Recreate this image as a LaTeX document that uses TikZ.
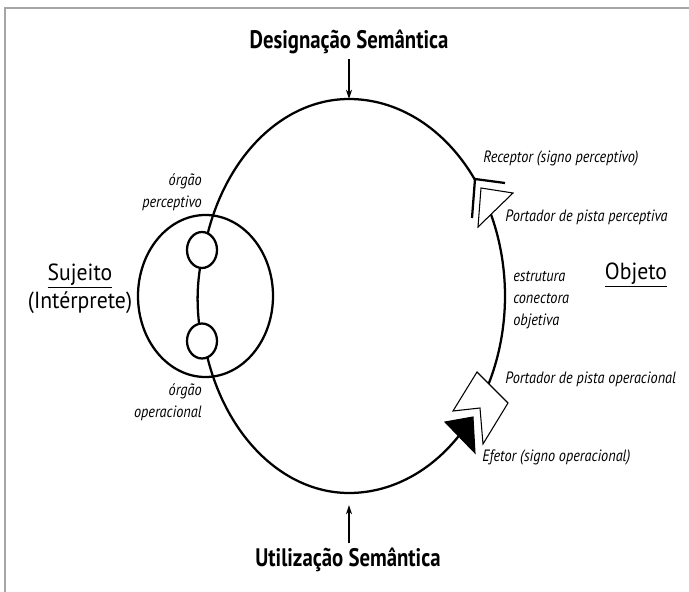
\documentclass[tikz,border=0pt]{standalone}
\usepackage{fontspec}
\setmainfont{PT Sans}
\usepackage{graphicx}
\usetikzlibrary{arrows.meta}
\newcommand{\cnd}[2]{\scalebox{#1}[1]{#2}}
\begin{document}
\begin{tikzpicture}[x=0.75pt,y=-0.75pt,
  loopline/.style={line width=1.7pt, line cap=round},
  thinline/.style={line width=0.8pt, line join=miter},
  lab/.style={font=\fontsize{12.3}{16.5}\selectfont\itshape, inner sep=0pt},
  big/.style={font=\fontsize{17.5}{21}\selectfont, inner sep=0pt},
  ttl/.style={font=\fontsize{19}{22}\selectfont\bfseries, inner sep=0pt},
  arr/.style={line width=0.9pt, -{Stealth[length=7pt,width=4.5pt]}}
]
\useasboundingbox (0,0) rectangle (689,592);
\draw[gray!70, line width=0.8pt] (5,592) -- (5,8) -- (689,8);

% titles and arrows
\node[ttl] (des) at (349,42) {\cnd{0.82}{Designação Semântica}};
\node[ttl] (uti) at (348,560) {\cnd{0.82}{Utilização Semântica}};
\coordinate (looptop) at (349,99);
\coordinate (dtail) at (349,59);
\coordinate (ubot) at (349,505);
\coordinate (utail) at (349,543);
\draw[arr] (dtail) -- (looptop);
\draw[arr] (utail) -- (ubot);

% subject circle
\draw[loopline] (205.5,296) ellipse [x radius=67.5, y radius=81];
\draw[loopline] (202,250) ellipse [x radius=15, y radius=18];
\draw[loopline] (202,341) ellipse [x radius=15, y radius=17.5];
\draw[loopline] (200,268) .. controls (197,288) and (197,305) .. (199,323);

% functional circle
\draw[loopline] plot[domain=198.6:323.7, samples=90, variable=\t]
  ({349+ifthenelse(cos(\t)>0,156,149)*cos(\t)}, {296+197*sin(\t)});
\draw[loopline] plot[domain=-30:30, samples=40, variable=\t]
  ({349+156*cos(\t)}, {296+197*sin(\t)});
\draw[loopline] plot[domain=43:161.6, samples=90, variable=\t]
  ({349+ifthenelse(cos(\t)>0,156,149)*cos(\t)}, {296+197*sin(\t)});

% receptor
\draw[loopline, line cap=butt, line join=miter] (505,183) -- (475,179) -- (472,218);
% perceptive cue carrier
\draw[thinline, fill=white] (481,188) -- (513,193) -- (478,227) -- cycle;
% operational cue carrier
\draw[thinline, fill=white] (477,372) -- (508,403) -- (483,444) -- (480,408) -- (453,411) -- cycle;
% effector
\draw[thinline, fill=black] (445,422) -- (473,417) -- (475,453) -- cycle;

% labels
\node[lab, anchor=west] (rec) at (483,158) {\cnd{0.87}{Receptor (signo perceptivo)}};
\node[lab, anchor=west] (ppp) at (505,217) {\cnd{0.87}{Portador de pista perceptiva}};
\node[lab, anchor=west, align=left] (est) at (513,300) {\cnd{0.87}{estrutura}\\\cnd{0.87}{conectora}\\\cnd{0.87}{objetiva}};
\node[lab, anchor=west] (ppo) at (505,379) {\cnd{0.87}{Portador de pista operacional}};
\node[lab, anchor=west] (efe) at (482,457) {\cnd{0.87}{Efetor (signo operacional)}};
\node[lab, anchor=east, align=right] (orp) at (202,192) {\cnd{0.87}{órgão}\\\cnd{0.87}{perceptivo}};
\node[lab, anchor=east, align=right] (oro) at (202,402) {\cnd{0.87}{órgão}\\\cnd{0.87}{operacional}};
\node[big, align=center] (suj) at (80,289) {\cnd{0.93}{\underline{Sujeito}}\\\cnd{0.93}{(Intérprete)}};
\node[big] (obj) at (636,275) {\cnd{0.93}{\underline{Objeto}}};
\end{tikzpicture}
\end{document}
